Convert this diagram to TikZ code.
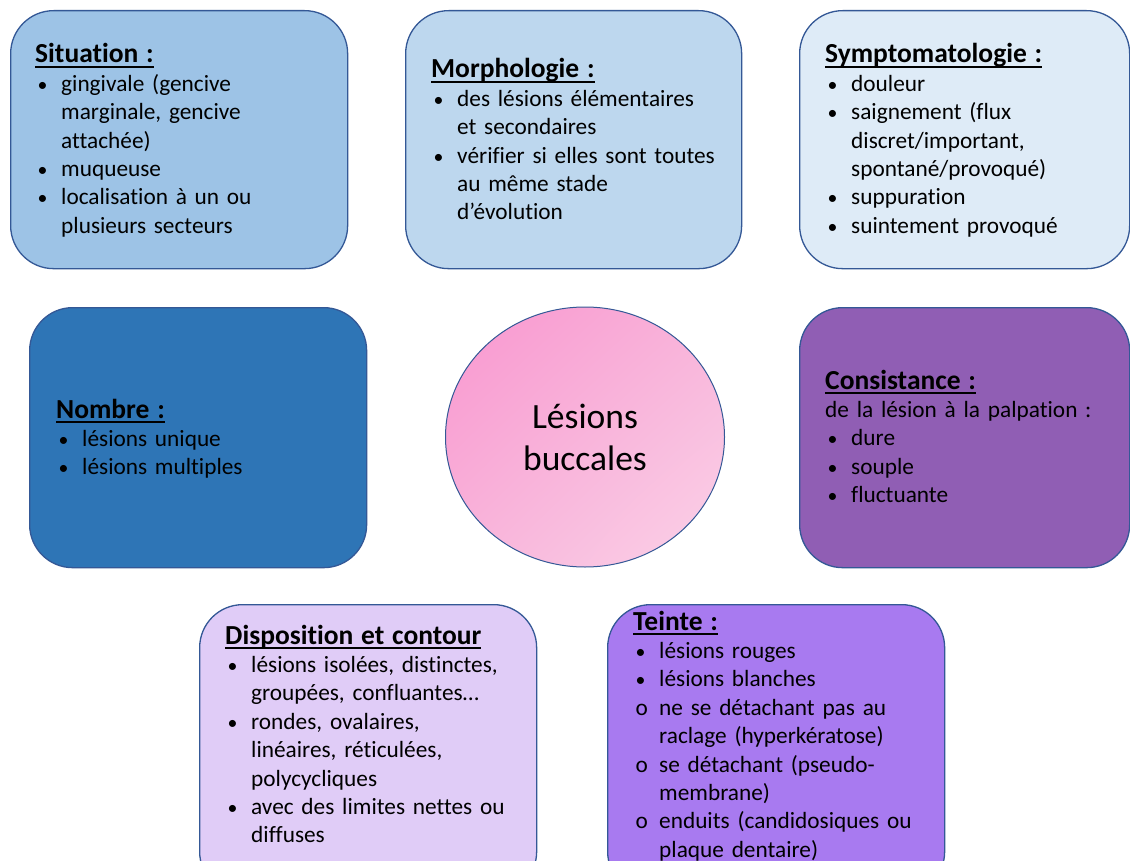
\documentclass[tikz,border=0pt]{standalone}
\usepackage{fontspec}
\setmainfont{Carlito}[Ligatures={NoCommon,NoContextual},WordSpace={0.8,0,0}]
\usetikzlibrary{shapes.geometric,shadings}
\definecolor{bord}{RGB}{52,88,150}
\definecolor{cA}{RGB}{157,195,230}
\definecolor{cB}{RGB}{189,215,238}
\definecolor{cC}{RGB}{222,235,247}
\definecolor{cD}{RGB}{46,117,182}
\definecolor{cE}{RGB}{144,94,180}
\definecolor{cF}{RGB}{224,204,247}
\definecolor{cG}{RGB}{168,122,240}
\definecolor{pkA}{RGB}{249,150,207}
\definecolor{pkB}{RGB}{249,180,218}
\definecolor{pkC}{RGB}{250,210,232}
\newsavebox\ulsave
\newcommand{\ulbox}[1]{\sbox\ulsave{#1}\rlap{\rule[-5pt]{\wd\ulsave}{1.8pt}}\usebox\ulsave}
\newcommand{\ttl}[1]{{\fontsize{27.5}{28.4}\selectfont\bfseries\ulbox{#1}}}
\newcommand{\bitem}[2][\scalebox{0.85}{•}]{\par\hangindent=26pt\hangafter=1\noindent\makebox[26pt][l]{\hspace{2.5pt}#1}#2}
\newcommand{\plain}[1]{\par\noindent #1}
\tikzset{
  box/.style={draw=bord, line width=1.3pt, rounded corners=43pt, anchor=north west, inner sep=0pt},
  txt/.style={anchor=base west, inner sep=0pt, text width=330pt, align=left,
    font=\fontsize{23.3}{28.4}\selectfont},
}
\begin{document}
\begin{tikzpicture}[x=1pt,y=-1pt]
\useasboundingbox (0,0) rectangle (1130,861);
\clip (0,0) rectangle (1130,861);
\fill[white] (0,0) rectangle (1130,861);
% boxes
\node[box, fill=cA, minimum width=337pt, minimum height=258pt] (b1) at (10,10) {};
\node[box, fill=cB, minimum width=336pt, minimum height=258pt] (b2) at (405,10) {};
\node[box, fill=cC, minimum width=330pt, minimum height=258pt] (b3) at (799,10) {};
\node[box, fill=cD, minimum width=337pt, minimum height=260pt] (b4) at (29,307) {};
\node[box, fill=cE, minimum width=330pt, minimum height=260pt] (b6) at (799,307) {};
\node[box, fill=cF, minimum width=337pt, minimum height=290pt] (b7) at (199,604) {};
\node[box, fill=cG, minimum width=337pt, minimum height=290pt] (b8) at (607,604) {};
% centre
\node[ellipse, draw=bord, line width=1pt, minimum width=279pt, minimum height=260pt,
  upper left=pkA, upper right=pkB, lower left=pkB, lower right=pkC,
  align=center, font=\fontsize{35.5}{42}\selectfont] (c) at (585,437) {Lésions\\buccales};
% texts
\node[txt] (t1) at (35,63) {\ttl{Situation :}%
  \bitem{gingivale (gencive\newline marginale, gencive\newline attachée)}%
  \bitem{muqueuse}%
  \bitem{localisation à un ou\newline plusieurs secteurs}\par};
\node[txt] (t2) at (431,78) {\ttl{Morphologie :}%
  \bitem{des lésions élémentaires\newline et secondaires}%
  \bitem{vérifier si elles sont toutes\newline au même stade\newline d’évolution}\par};
\node[txt] (t3) at (825,63) {\ttl{Symptomatologie :}%
  \bitem{douleur}%
  \bitem{saignement (flux\newline discret/important,\newline spontané/provoqué)}%
  \bitem{suppuration}%
  \bitem{suintement provoqué}\par};
\node[txt] (t4) at (56,418) {\ttl{Nombre :}%
  \bitem{lésions unique}%
  \bitem{lésions multiples}\par};
\node[txt] (t6) at (825,389) {\ttl{Consistance :}%
  \plain{de la lésion à la palpation :}%
  \bitem{dure}%
  \bitem{souple}%
  \bitem{fluctuante}\par};
\node[txt] (t7) at (225,644) {\ttl{Disposition et contour}%
  \bitem{lésions isolées, distinctes,\newline groupées, confluantes…}%
  \bitem{rondes, ovalaires,\newline linéaires, réticulées,\newline polycycliques}%
  \bitem{avec des limites nettes ou\newline diffuses}\par};
\node[txt] (t8) at (633,630) {\ttl{Teinte :}%
  \bitem{lésions rouges}%
  \bitem{lésions blanches}%
  \bitem[o]{ne se détachant pas au\newline raclage (hyperkératose)}%
  \bitem[o]{se détachant (pseudo-\newline membrane)}%
  \bitem[o]{enduits (candidosiques ou\newline plaque dentaire)}\par};
\end{tikzpicture}
\end{document}
